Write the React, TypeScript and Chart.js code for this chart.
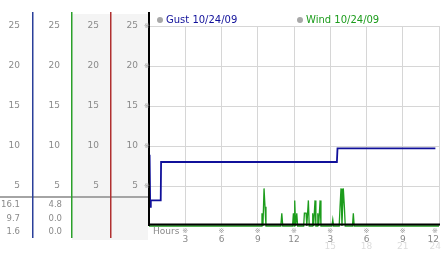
import React, { useEffect, useRef } from 'react';
import { Chart, registerables } from 'chart.js';
Chart.register(...registerables);

const gustLabel = 'Gust 10/24/09';
const windLabel = 'Wind 10/24/09';
const axisTitle = 'Hours';
const yTickValues = [5, 10, 15, 20, 25];
const xTickHours = [3, 6, 9, 12, 15, 18, 21, 24];

const gustHours = [0.05, 0.1, 0.15, 0.97, 1.0, 15.55, 15.6, 23.7];
const gustSpeeds = [8.9, 2.4, 3.2, 3.2, 8.0, 8.0, 9.7, 9.7];

const windHours = [0, 9.27, 9.35, 9.43, 9.52, 9.6, 9.68, 10.91, 10.99, 11.07, 11.88, 11.95, 12.01, 12.06, 12.13, 12.23, 12.3, 12.8, 12.86, 13.0, 13.06, 13.19, 13.26, 13.49, 13.55, 13.62, 13.74, 13.81, 13.91, 13.97, 14.04, 14.16, 14.23, 15.14, 15.21, 15.28, 15.74, 15.81, 15.89, 15.97, 16.08, 16.17, 16.24, 16.84, 16.91, 16.98, 24];
const windSpeeds = [0, 0, 1.6, 0, 4.7, 2.4, 0, 0, 1.6, 0, 0, 1.6, 0, 3.2, 0, 1.6, 0, 0, 1.6, 1.6, 0, 3.2, 0, 0, 1.6, 0, 3.2, 0, 0, 1.6, 0, 3.2, 0, 0, 0.8, 0, 0, 2.4, 4.7, 0, 4.7, 2.4, 0, 0, 1.6, 0, 0];

const gustStats = ['16.1', '9.7', '1.6'];
const windStats = ['4.8', '0.0', '0.0'];

const FONT = "'DejaVu Sans', Verdana, sans-serif";
const GUST_COLOR = '#10109a';
const WIND_COLOR = '#1c9c1c';
const TICK_COLOR = '#8a8a8a';

export default function App() {
  const ref = useRef<HTMLCanvasElement>(null);

  useEffect(() => {
    const canvas = ref.current!;
    const fixWidth = (w: number) => (scale: any) => { scale.width = w; scale.paddingTop = 0; scale.paddingBottom = 0; };
    const yTick = (pad: number) => ({
      color: TICK_COLOR,
      font: { family: FONT, size: 9 },
      padding: pad,
      stepSize: 5,
      callback: (v: any) => (yTickValues.includes(v) ? String(v) : ''),
    });

    const panelPlugin = {
      id: 'panel',
      beforeDraw(chart: any) {
        const ctx = chart.ctx;
        const s = chart.scales;
        ctx.save();
        ctx.fillStyle = '#f4f4f4';
        ctx.fillRect(s.yC.left, 14, s.y.right - s.yC.left - 1, 226);
        ctx.fillStyle = '#a4a4a4';
        ctx.fillRect(0, 196, s.y.right, 2);
        ctx.restore();
      },
      afterDatasetsDraw(chart: any) {
        const ctx = chart.ctx;
        const s = chart.scales;
        const a = chart.chartArea;
        ctx.save();
        // axes
        ctx.fillStyle = '#000';
        ctx.fillRect(a.left - 1, 12, 2, a.bottom - 12);
        ctx.fillRect(a.left - 1, a.bottom - 2.5, a.right - a.left + 2, 2);
        // column separators
        const cols: [number, string][] = [[s.yA.right, '#2a3f9a'], [s.yB.right, '#2aa02a'], [s.yC.right, '#b03030']];
        cols.forEach(([x, c]) => { ctx.fillStyle = c; ctx.fillRect(x - 1, 12, 1.5, 226); });
        // stats
        ctx.font = `8.5px ${FONT}`;
        ctx.fillStyle = TICK_COLOR;
        ctx.textAlign = 'right';
        ctx.textBaseline = 'middle';
        gustStats.forEach((t, i) => ctx.fillText(t, s.yA.right - 13, 205 + i * 13.5));
        windStats.forEach((t, i) => ctx.fillText(t, s.yB.right - 10, 205 + i * 13.5));
        // tick glyphs
        ctx.font = `7px ${FONT}`;
        ctx.fillStyle = '#999';
        ctx.textAlign = 'center';
        yTickValues.forEach((v) => ctx.fillText('\u203B', a.left - 2, s.y.getPixelForValue(v)));
        xTickHours.forEach((h) => ctx.fillText('\u203B', Math.min(s.x.getPixelForValue(h), a.right - 4), a.bottom + 5));
        // second row of hour labels
        ctx.font = `9px ${FONT}`;
        ctx.fillStyle = '#dcdcdc';
        xTickHours.filter((h) => h > 12).forEach((h) => {
          const px = s.x.getPixelForValue(h);
          if (h === 24) { ctx.textAlign = 'right'; ctx.fillText(String(h), px + 2, a.bottom + 21); }
          else { ctx.textAlign = 'center'; ctx.fillText(String(h), px, a.bottom + 21); }
        });
        ctx.fillStyle = TICK_COLOR;
        ctx.textAlign = 'left';
        ctx.fillText(axisTitle, a.left + 4, a.bottom + 6);
        // legend
        ctx.font = `10px ${FONT}`;
        ctx.textBaseline = 'middle';
        const items: [string, string, number][] = [[gustLabel, GUST_COLOR, a.left + 17], [windLabel, WIND_COLOR, a.left + 157]];
        items.forEach(([t, c, x]) => {
          ctx.fillStyle = '#a8a8a8';
          ctx.beginPath();
          ctx.arc(x - 6, 20, 3, 0, Math.PI * 2);
          ctx.fill();
          ctx.fillStyle = c;
          ctx.fillText(t, x, 20.5);
        });
        ctx.restore();
      },
    };

    const chart = new Chart(canvas, {
      type: 'line',
      data: {
        datasets: [
          {
            label: gustLabel,
            data: gustHours.map((h, i) => ({ x: h, y: gustSpeeds[i] })),
            borderColor: GUST_COLOR,
            borderWidth: 1.8,
            pointRadius: 0,
            tension: 0,
            yAxisID: 'y',
          },
          {
            label: windLabel,
            data: windHours.map((h, i) => ({ x: h, y: windSpeeds[i] })),
            borderColor: WIND_COLOR,
            borderWidth: 1.3,
            pointRadius: 0,
            tension: 0,
            clip: 4,
            yAxisID: 'y',
          },
        ],
      },
      options: {
        animation: false,
        responsive: false,
        events: [],
        layout: { padding: { top: 26, right: 3, left: 0, bottom: 0 } },
        plugins: { legend: { display: false }, tooltip: { enabled: false } },
        scales: {
          x: {
            type: 'linear',
            min: 0,
            max: 24,
            afterFit: (scale: any) => { scale.height = 27; scale.paddingLeft = 0; scale.paddingRight = 0; },
            afterBuildTicks: (scale: any) => { scale.ticks = [0, ...xTickHours].map((v) => ({ value: v })); },
            grid: { color: '#d6d6d6', lineWidth: 1, drawTicks: false },
            border: { display: false },
            ticks: {
              color: TICK_COLOR,
              font: { family: FONT, size: 9 },
              padding: 8,
              maxRotation: 0,
              autoSkip: false,
              align: 'inner',
              callback: (v: any) => (v === 0 ? '' : String(v % 12 === 0 ? 12 : v % 12)),
            },
          },
          y: {
            type: 'linear', position: 'left', weight: 1, min: 0, max: 25,
            afterFit: fixWidth(38),
            grid: { color: (c: any) => (c.tick && c.tick.value === 0 ? 'rgba(0,0,0,0)' : '#d6d6d6'), lineWidth: 1, drawTicks: false },
            border: { display: false },
            ticks: yTick(11),
          },
          yC: {
            type: 'linear', position: 'left', weight: 2, min: 0, max: 25,
            afterFit: fixWidth(39),
            grid: { display: false, drawTicks: false },
            border: { display: false },
            ticks: yTick(12),
          },
          yB: {
            type: 'linear', position: 'left', weight: 3, min: 0, max: 25,
            afterFit: fixWidth(39),
            grid: { display: false, drawTicks: false },
            border: { display: false },
            ticks: yTick(12),
          },
          yA: {
            type: 'linear', position: 'left', weight: 4, min: 0, max: 25,
            afterFit: fixWidth(33),
            grid: { display: false, drawTicks: false },
            border: { display: false },
            ticks: yTick(13),
          },
        },
      } as any,
      plugins: [panelPlugin],
    });
    return () => chart.destroy();
  }, []);

  return (
    <div style={{ position: 'absolute', left: 0, top: 0, width: 442, height: 253, background: '#fff' }}>
      <canvas ref={ref} width={442} height={253} style={{ display: 'block' }} />
    </div>
  );
}
